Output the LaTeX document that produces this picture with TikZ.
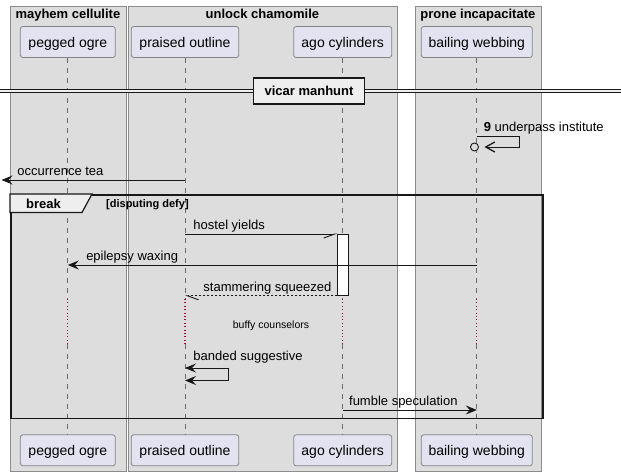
\documentclass[tikz,border=0pt]{standalone}
\usepackage{fontspec}
\setmainfont{Liberation Sans}
\usetikzlibrary{arrows.meta, positioning}
\definecolor{boxgray}{HTML}{DDDDDD}
\definecolor{boxline}{HTML}{8C8C8C}
\definecolor{partfill}{HTML}{E2E2F0}
\definecolor{partline}{HTML}{848484}
\definecolor{lifegray}{HTML}{6A6A6A}
\definecolor{delayred}{HTML}{A80036}
\definecolor{tabfill}{HTML}{EEEEEE}
\definecolor{inkblack}{HTML}{181818}

\begin{document}
\begin{tikzpicture}[x=1pt, y=-1pt,
  every node/.style={font=\fontsize{13}{15}\selectfont, inner sep=0pt, text=black},
  >={Stealth[length=11pt, width=9pt, inset=4pt]},
  grp/.style={draw=boxline, fill=boxgray, line width=0.8pt, anchor=north west},
  grptitle/.style={font=\bfseries\fontsize{13}{15}\selectfont, anchor=base},
  part/.style={draw=partline, fill=partfill, rounded corners=2.5pt, line width=0.8pt,
               minimum height=31, text height=11, text depth=0,
               font=\fontsize{14}{16}\selectfont},
  life/.style={draw=lifegray, line width=0.7pt, dash pattern=on 5pt off 5pt},
  delay/.style={draw=delayred, line width=1.1pt, dash pattern=on 1pt off 2.4pt},
  msg/.style={draw=inkblack, line width=0.9pt, ->},
  halfmsg/.style={draw=inkblack, line width=0.9pt},
  lbl/.style={anchor=base west, yshift=4.5pt}
]
  \useasboundingbox (0,0) rectangle (621,476);

  % boxes
  \node[grp, minimum width=116, minimum height=465] (mayhem) at (9.5,6) {};
  \node[grp, minimum width=269, minimum height=465] (unlock) at (127.5,6) {};
  \node[grp, minimum width=126, minimum height=465] (prone)  at (414.5,6) {};
  \node[grptitle] (mayhemT) at (mayhem.north |- 0,19) {mayhem cellulite};
  \node[grptitle] (unlockT) at (unlock.north |- 0,19) {unlock chamomile};
  \node[grptitle] (proneT)  at (prone.north |- 0,19)  {prone incapacitate};

  % participants
  \node[part, minimum width=95]    (pegged)  at (67.8,42)  {pegged ogre};
  \node[part, minimum width=107.5] (praised) at (185,42)   {praised outline};
  \node[part, minimum width=98]    (ago)     at (342.7,42) {ago cylinders};
  \node[part, minimum width=111]   (bail)    at (476.8,42) {bailing webbing};
  \node[part, minimum width=95]    (bpegged)  at (67.8,450.3)  {pegged ogre};
  \node[part, minimum width=107.5] (bpraised) at (185,450.3)   {praised outline};
  \node[part, minimum width=98]    (bago)     at (342.7,450.3) {ago cylinders};
  \node[part, minimum width=111]   (bbail)    at (476.8,450.3) {bailing webbing};

  % lifelines with the delay
  \foreach \p in {pegged, praised, ago, bail} {
    \draw[life]  (\p.south) -- (\p |- 0,299);
    \draw[delay] (\p |- 0,299) -- (\p |- 0,344);
    \draw[life]  (\p |- 0,344) -- (b\p.north);
  }
  \node[font=\fontsize{10.5}{12}\selectfont, anchor=base] (buffy) at (271,328.5) {buffy counselors};

  % divider
  \coordinate (divL) at (0,91);
  \coordinate (divR) at (621,91);
  \draw[draw=inkblack, line width=1pt, double=tabfill, double distance=2.5pt] (divL) -- (divR);
  \node[draw=inkblack, line width=1.8pt, fill=tabfill, minimum width=111, minimum height=25.5,
        font=\bfseries\fontsize{13}{15}\selectfont] (vicar) at (309,91) {vicar manhunt};

  % break frame
  \node[draw=inkblack, line width=1.6pt, minimum width=532, minimum height=223.5,
        anchor=north west] (brk) at (10,194) {};
  \draw[draw=inkblack, fill=tabfill, line width=1.2pt]
    (brk.north west) -- ++(82,0) -- ++(-10,18.5) -- ++(-72,0) -- cycle;
  \node[font=\bfseries\fontsize{13}{15}\selectfont, anchor=base] (brkT) at (43.5,208.3) {break};
  \node[font=\bfseries\fontsize{11}{13}\selectfont, anchor=base west] (brkG) at (106,207) {[disputing defy]};

  % activation
  \node[draw=inkblack, fill=white, line width=0.8pt, minimum width=10.5, minimum height=61,
        anchor=north west] (act) at (337.3,234) {};

  % messages
  \node[circle, draw=inkblack, line width=0.9pt, fill=boxgray, minimum size=8] (ring) at (474.5,147) {};
  \draw[halfmsg, -{Straight Barb[length=9pt, width=10pt, line width=1.3pt]}]
    (bail |- 0,136) node[lbl, xshift=6.5pt] {\textbf{9} underpass institute}
    -- ++(42.5,0) -- ++(0,11) -- ([xshift=5.5pt]ring.east);

  \coordinate (edgeL) at (1.5,180);
  \draw[msg] (praised |- 0,180) -- (edgeL) node[lbl, pos=1, xshift=15.5pt] {occurrence tea};

  \draw[halfmsg, -{Straight Barb[right, length=11pt, width=8pt]}]
    (praised |- act.north) -- (act.north west) node[lbl, pos=0, xshift=8pt] {hostel yields};
  \draw[msg] (bail |- 0,265) -- (pegged |- 0,265) node[lbl, pos=1, xshift=18pt] {epilepsy waxing};
  \draw[halfmsg, dash pattern=on 2pt off 2pt, -{Straight Barb[left, length=11pt, width=8pt]}]
    (act.south west) -- (praised |- act.south) node[lbl, pos=1, xshift=18pt] {stammering squeezed};

  \draw[msg, <->] (praised |- 0,368) node[lbl, xshift=8pt, yshift=3pt] {banded suggestive}
    -- ++(43,0) -- ++(0,12.5) -- (praised |- 0,380.5);
  \draw[msg] (ago |- 0,410) -- (bail |- 0,410) node[lbl, pos=0, xshift=6pt] {fumble speculation};
\end{tikzpicture}
\end{document}
